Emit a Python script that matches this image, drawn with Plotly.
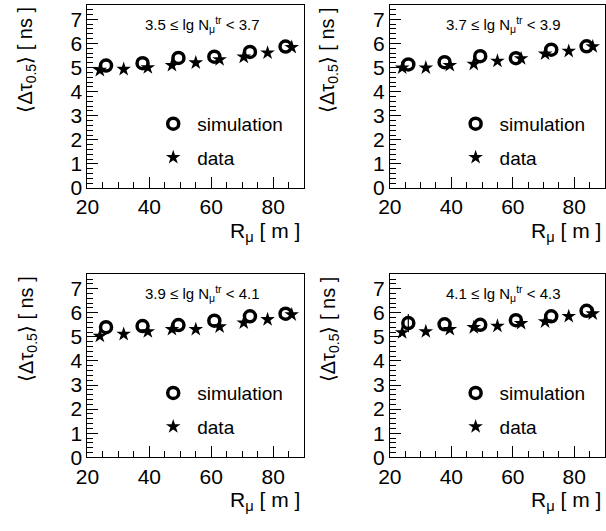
import plotly.graph_objects as go

# ---------------- data ----------------
bin_labels = ["3.5 ≤ lg N<sub>μ</sub><sup>tr</sup> < 3.7",
              "3.7 ≤ lg N<sub>μ</sub><sup>tr</sup> < 3.9",
              "3.9 ≤ lg N<sub>μ</sub><sup>tr</sup> < 4.1",
              "4.1 ≤ lg N<sub>μ</sub><sup>tr</sup> < 4.3"]

sim_r = [26.0, 37.8, 49.4, 61.0, 72.5, 84.0]
data_r = [24.0, 31.7, 39.5, 47.3, 55.0, 62.7, 70.5, 78.2, 86.0]

sim_1 = [5.08, 5.18, 5.40, 5.45, 5.65, 5.87]
data_1 = [4.89, 4.93, 5.00, 5.09, 5.20, 5.33, 5.44, 5.61, 5.84]

sim_2 = [5.13, 5.22, 5.47, 5.39, 5.74, 5.88]
data_2 = [4.99, 4.99, 5.09, 5.14, 5.27, 5.37, 5.57, 5.68, 5.87]

sim_3 = [5.40, 5.45, 5.49, 5.67, 5.85, 5.96]
data_3 = [5.03, 5.11, 5.22, 5.31, 5.31, 5.42, 5.58, 5.72, 5.92]

sim_4 = [5.57, 5.52, 5.50, 5.69, 5.85, 6.08]
data_4 = [5.18, 5.22, 5.31, 5.39, 5.45, 5.56, 5.63, 5.85, 5.96]
sim_4_err = [0.38, 0, 0, 0, 0, 0]

sims = [sim_1, sim_2, sim_3, sim_4]
datas = [data_1, data_2, data_3, data_4]
sim_errs = [None, None, None, sim_4_err]

# ---------------- layout geometry ----------------
W, H = 606, 531
FONT = "Liberation Sans, Arial, sans-serif"
# panel pixel boxes: (left, right, top, bottom)
boxes = [(77, 298, 5, 192), (385.5, 605, 5, 192),
         (77, 298, 280, 467), (385.5, 605, 280, 467)]

fig = go.Figure()

for i in range(4):
    n = "" if i == 0 else str(i + 1)
    xa, ya = "x" + n, "y" + n
    lg = "legend" + n
    err = None
    if sim_errs[i] is not None:
        err = dict(type="data", array=sim_errs[i], visible=True,
                   color="black", thickness=1.2, width=0)
    fig.add_trace(go.Scatter(
        x=sim_r, y=sims[i], mode="markers", name="simulation",
        xaxis=xa, yaxis=ya, legend=lg, legendgroup="sim",
        error_y=err,
        marker=dict(symbol="circle-open", size=11, color="black",
                    line=dict(width=3.5, color="black"))))
    fig.add_trace(go.Scatter(
        x=data_r, y=datas[i], mode="markers", name="data",
        xaxis=xa, yaxis=ya, legend=lg, legendgroup="dat",
        marker=dict(symbol="star", size=11, color="black",
                    line=dict(width=0))))

layout = dict(width=W, height=H, margin=dict(l=0, r=0, t=0, b=0),
              paper_bgcolor="white", plot_bgcolor="white",
              font=dict(family=FONT, color="black"),
              showlegend=True)

annotations = []
for i, (l, r, t, b) in enumerate(boxes):
    n = "" if i == 0 else str(i + 1)
    xd = [l / W, r / W]
    yd = [1 - b / H, 1 - t / H]
    common = dict(showline=True, linecolor="black", linewidth=1, mirror=True,
                  ticks="inside", tickcolor="black", tickwidth=1,
                  showgrid=False, zeroline=False,
                  tickfont=dict(family=FONT, size=21, color="black"))
    layout["xaxis" + n] = dict(domain=xd, range=[20, 90], dtick=20, tick0=20,
                               ticklen=11, anchor="y" + n,
                               minor=dict(dtick=5, tick0=20, ticks="inside",
                                          ticklen=6, tickcolor="black"),
                               **common)
    layout["yaxis" + n] = dict(domain=yd, range=[0, 7.6], dtick=1, tick0=0,
                               ticklen=11, anchor="x" + n,
                               minor=dict(dtick=0.2, tick0=0, ticks="inside",
                                          ticklen=6, tickcolor="black"),
                               **common)
    # legend
    layout["legend" + n] = dict(x=(l + 63) / W, y=1 - (t + 102) / H,
                                xanchor="left", yanchor="top",
                                bgcolor="rgba(0,0,0,0)", borderwidth=0,
                                font=dict(family=FONT, size=19, color="black"),
                                itemwidth=38, tracegroupgap=6,
                                traceorder="grouped")
    # bin label
    annotations.append(dict(text=bin_labels[i], xref="x" + n + " domain",
                            yref="y" + n + " domain", x=0.53, y=1 - 20 / (b - t),
                            xanchor="center", yanchor="middle", showarrow=False,
                            font=dict(family=FONT, size=15, color="black")))
    # y title
    annotations.append(dict(text="⟨Δτ<sub>0.5</sub>⟩ [ ns ]", xref="paper",
                            yref="paper", x=(l - 62) / W, y=1 - t / H,
                            xanchor="center", yanchor="top", textangle=-90,
                            showarrow=False,
                            font=dict(family=FONT, size=20, color="black")))
    # x title
    annotations.append(dict(text="R<sub>μ</sub> [ m ]", xref="paper",
                            yref="paper", x=(r - 2) / W, y=1 - (b + 45) / H,
                            xanchor="right", yanchor="middle",
                            showarrow=False,
                            font=dict(family=FONT, size=21, color="black")))

layout["annotations"] = annotations
fig.update_layout(**layout)
fig.write_html("out.html")
